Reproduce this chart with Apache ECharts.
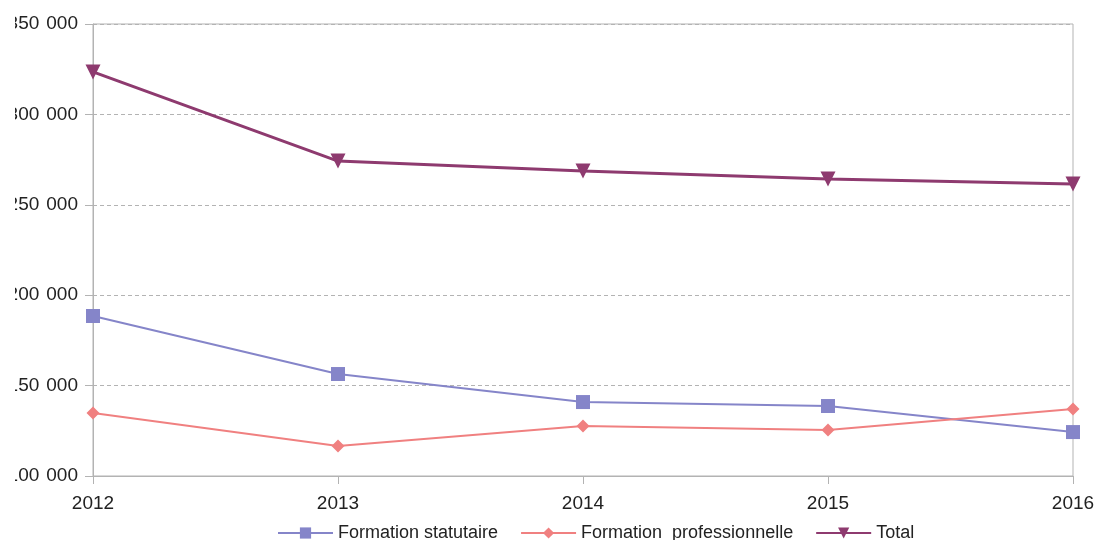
<!DOCTYPE html>
<html>
<head>
<meta charset="utf-8">
<script src="https://cdn.jsdelivr.net/npm/echarts@6/dist/echarts.min.js"></script>
<style>
html,body{margin:0;padding:0;background:#fff;}
#main{width:1099px;height:540px;}
</style>
</head>
<body>
<div id="main"></div>
<script>
const categories = ['2012', '2013', '2014', '2015', '2016'];
const statutaire = [188500, 156400, 140900, 138700, 124300];
const professionnelle = [134800, 116600, 127700, 125400, 137100];
const total = [323500, 274200, 268700, 264300, 261500];
const seriesNames = ['Formation statutaire', 'Formation  professionnelle', 'Total'];

const chart = echarts.init(document.getElementById('main'), null, {renderer: 'canvas'});
const fontFamily = '"Liberation Sans", Arial, sans-serif';
chart.setOption({
  animation: false,
  backgroundColor: '#ffffff',
  grid: {left: 93, right: 26, top: 24, bottom: 64, show: true, borderColor: '#b3b3b3', borderWidth: 1},
  legend: {
    top: 519, left: 272,
    itemWidth: 55, itemHeight: 14, itemGap: 22,
    textStyle: {fontFamily: fontFamily, fontSize: 18, color: '#222'},
    data: seriesNames
  },
  graphic: [{
    type: 'rect', left: 0, top: 0, z: 100,
    shape: {width: 15, height: 500},
    style: {fill: '#ffffff'}
  }],
  xAxis: {
    type: 'category', data: categories, boundaryGap: false,
    axisLine: {lineStyle: {color: '#b3b3b3', width: 1}},
    axisTick: {show: true, length: 8, lineStyle: {color: '#b3b3b3'}},
    axisLabel: {fontFamily: fontFamily, fontSize: 19, color: '#222', margin: 18},
    splitLine: {show: false}
  },
  yAxis: {
    type: 'value', min: 100000, max: 350000, interval: 50000,
    axisLine: {show: true, lineStyle: {color: '#b3b3b3', width: 1}},
    axisTick: {show: true, length: 8, lineStyle: {color: '#b3b3b3'}},
    axisLabel: {
      fontFamily: fontFamily, fontSize: 19, color: '#222', margin: 15,
      formatter: v => {
        const s = String(v);
        return '{a|' + s.slice(0, s.length - 3) + '}{s| }{a|' + s.slice(-3) + '}';
      },
      rich: {
        a: {fontFamily: fontFamily, fontSize: 19, color: '#222'},
        s: {fontFamily: fontFamily, fontSize: 19, width: 7}
      }
    },
    splitLine: {show: true, lineStyle: {color: '#b3b3b3', type: [4, 3], width: 1}}
  },
  series: [
    {
      name: seriesNames[0], type: 'line', data: statutaire,
      symbol: 'rect', symbolSize: 14,
      lineStyle: {width: 2, color: '#8585c9'}, itemStyle: {color: '#8585c9'}
    },
    {
      name: seriesNames[1], type: 'line', data: professionnelle,
      symbol: 'diamond', symbolSize: 13,
      lineStyle: {width: 2, color: '#f08080'}, itemStyle: {color: '#f08080'}
    },
    {
      name: seriesNames[2], type: 'line', data: total,
      symbol: 'triangle', symbolRotate: 180, symbolSize: 15,
      lineStyle: {width: 3, color: '#8e3a6f'}, itemStyle: {color: '#8e3a6f'}
    }
  ]
});
</script>
</body>
</html>
